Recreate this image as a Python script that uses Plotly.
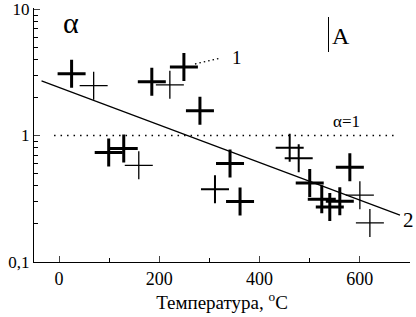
import plotly.graph_objects as go

# ---- data ----
thick_x = [25, 185, 249, 281, 99, 129, 341, 361, 580, 500, 524, 540, 560]
thick_y = [3.08, 2.66, 3.49, 1.57, 0.735, 0.79, 0.60, 0.30, 0.56, 0.42, 0.313, 0.271, 0.302]
medium_x = [311, 460, 478]
medium_y = [0.376, 0.80, 0.66]
thin_x = [69, 221, 159, 600, 620]
thin_y = [2.48, 2.52, 0.58, 0.337, 0.203]
fit_x = [-35, 680]
fit_y = [2.71, 0.234]
unity_x = [-10, 675]
unity_y = [1, 1]
y_tickvals = [0.1, 1, 10]
y_ticktext = ["0,1", "1", "10"]
y_minor = [0.2, 0.3, 0.4, 0.5, 0.6, 0.7, 0.8, 0.9, 2, 3, 4, 5, 6, 7, 8, 9]
x_tickvals = [0, 200, 400, 600]
x_title = "Температура, <sup>o</sup>C"

FONT = "Liberation Serif"
W, H = 416, 317
L, R, T, B = 34, 6, 8, 55
pw, ph = W - L - R, H - T - B


def px(x):
    return (x - L) / pw


def py(y):
    return (H - B - y) / ph


fig = go.Figure()
fig.add_trace(go.Scatter(x=unity_x, y=unity_y, mode="lines",
                         line=dict(color="black", width=1.3, dash="1.5px,5px"), showlegend=False))
fig.add_trace(go.Scatter(x=fit_x, y=fit_y, mode="lines",
                         line=dict(color="black", width=1.2), showlegend=False))
for xs, ys, w in [(thick_x, thick_y, 3), (medium_x, medium_y, 2), (thin_x, thin_y, 1.3)]:
    fig.add_trace(go.Scatter(x=xs, y=ys, mode="markers", showlegend=False,
                             marker=dict(symbol="cross-thin", size=20,
                                         line=dict(color="black", width=w))))


def label(x, y, text, size):
    fig.add_annotation(x=px(x), y=py(y), text=text, showarrow=False, xref="paper", yref="paper",
                       xanchor="center", yanchor="middle",
                       font=dict(size=size, family=FONT, color="black"))


label(71, 22, "α", 30)
label(341, 36, "A", 24)
label(346, 121, "α=1", 17)
label(237, 57, "1", 19)
label(408, 220, "2", 21)

fig.add_shape(type="line", xref="paper", yref="paper", x0=px(328.5), x1=px(328.5), y0=py(17), y1=py(52),
              line=dict(color="black", width=1))
fig.add_shape(type="line", xref="paper", yref="paper", x0=px(195), x1=px(221), y0=py(64), y1=py(58),
              line=dict(color="black", width=1.3, dash="1.5px,3px"))

fig.update_layout(
    width=W, height=H, margin=dict(l=L, r=R, t=T, b=B, autoexpand=False),
    paper_bgcolor="white", plot_bgcolor="white",
    font=dict(family=FONT, color="black", size=18),
    xaxis=dict(range=[-50, 700], tickvals=x_tickvals, ticks="inside", ticklen=6, tickwidth=1,
               showline=True, linecolor="black", linewidth=1.3, showgrid=False, zeroline=False,
               tickfont=dict(size=18, family=FONT),
               minor=dict(tickvals=[100, 300, 500, 700], ticks="inside", ticklen=4, tickcolor="black"),
               title=dict(text=x_title, font=dict(size=19, family=FONT), standoff=4)),
    yaxis=dict(type="log", range=[-1.002, 1.01], tickvals=y_tickvals, ticktext=y_ticktext,
               ticks="inside", ticklen=6, tickwidth=1, showline=True, linecolor="black", linewidth=1.3,
               showgrid=False, zeroline=False, tickfont=dict(size=17, family=FONT),
               ticklabeloverflow="allow",
               minor=dict(tickvals=y_minor, ticks="inside", ticklen=4, tickcolor="black")),
)

fig.write_html("out.html", config={"displayModeBar": False},
               post_script="document.body.style.margin='0';")
